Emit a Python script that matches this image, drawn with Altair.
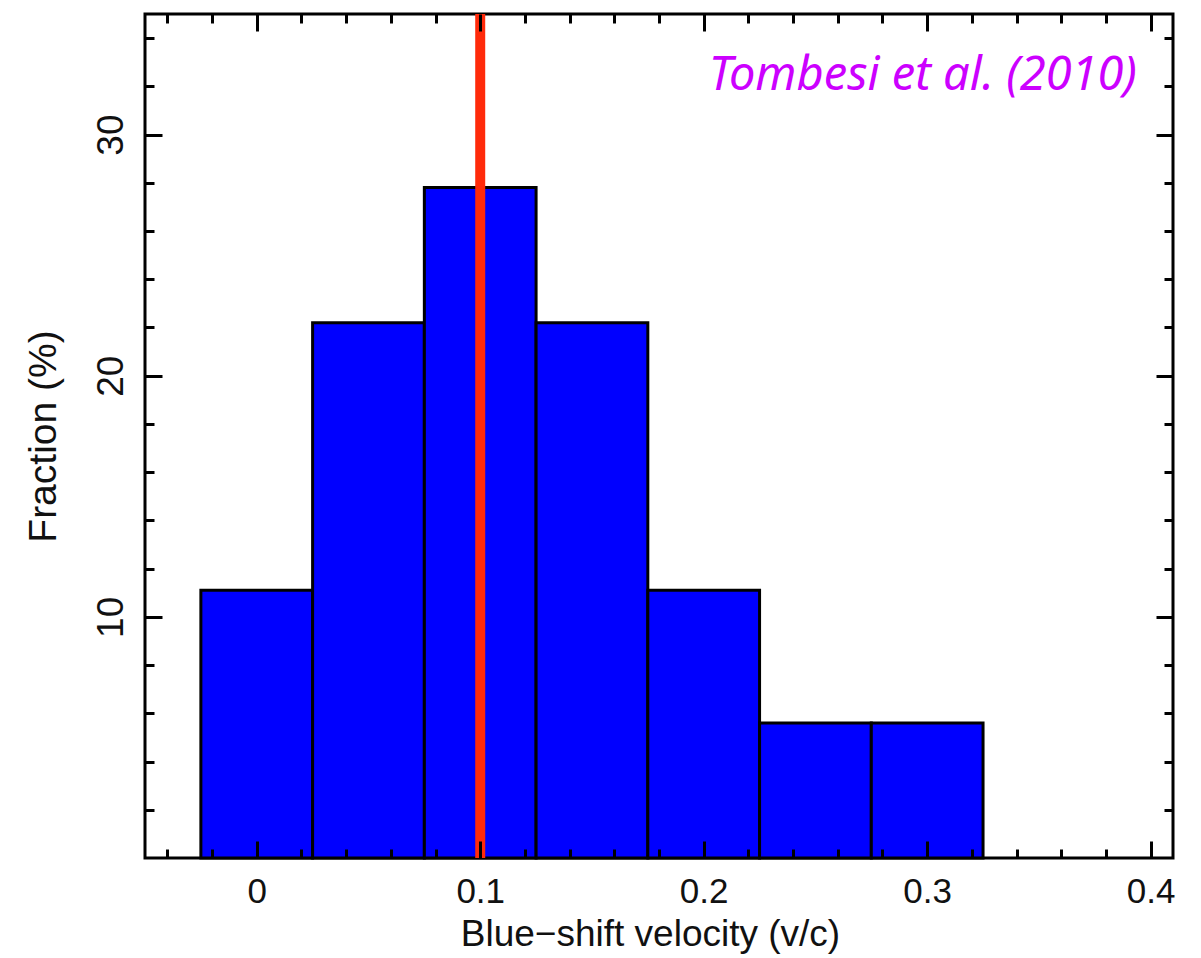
import altair as alt
import pandas as pd

# ---- data ----
bin_left = [-0.025, 0.025, 0.075, 0.125, 0.175, 0.225, 0.275]
bin_right = [0.025, 0.075, 0.125, 0.175, 0.225, 0.275, 0.325]
fraction = [11.1, 22.2, 27.8, 22.2, 11.1, 5.6, 5.6]
mean_velocity = [0.1]
annotation = ["Tombesi et al. (2010)"]

x_major = [0, 0.1, 0.2, 0.3, 0.4]
x_minor = [-0.04, -0.02, 0.02, 0.04, 0.06, 0.08, 0.12, 0.14, 0.16, 0.18,
           0.22, 0.24, 0.26, 0.28, 0.32, 0.34, 0.36, 0.38]
y_major = [10, 20, 30]
y_minor = [2, 4, 6, 8, 12, 14, 16, 18, 22, 24, 26, 28, 32, 34]

W, H = 1028, 844
FONT = "Liberation Sans"

hist = pd.DataFrame({"left": bin_left, "right": bin_right, "frac": fraction})
line = pd.DataFrame({"v": mean_velocity})
note = pd.DataFrame({"t": annotation})

xs = alt.Scale(domain=[-0.05, 0.41], nice=False, zero=False)
ys = alt.Scale(domain=[0, 35], nice=False)


def tick_axis(orient, offset, values, size):
    return alt.Axis(orient=orient, offset=offset, values=values, tickSize=size,
                    tickWidth=3, tickColor="black", labels=False, domain=False,
                    grid=False, title=None, zindex=2)


x_main = alt.Axis(orient="bottom", values=x_major, format="~g", ticks=False,
                  domain=False, grid=False, labelFont=FONT, labelFontSize=35,
                  labelColor="#111", labelBaseline="alphabetic", labelPadding=44,
                  labelAlign="center",
                  title="Blue\u2212shift velocity (v/c)", titleFont=FONT,
                  titleFontSize=37, titleFontWeight="normal", titleColor="#111",
                  titleBaseline="alphabetic", titleAlign="center",
                  titleX=505, titleY=87, zindex=2)
y_main = alt.Axis(orient="left", values=y_major, format="d", ticks=False,
                  domain=False, grid=False, labelFont=FONT, labelFontSize=37,
                  labelColor="#111", labelAngle=270, labelAlign="center",
                  labelBaseline="alphabetic", labelPadding=23,
                  title="Fraction (%)", titleFont=FONT, titleFontSize=39,
                  titleFontWeight="normal", titleColor="#111", titleAngle=270,
                  titleAlign="center", titleBaseline="alphabetic",
                  titleX=-90, titleY=H / 2, zindex=2)

base = alt.Chart(hist)

bars = base.mark_rect(color="#0000ff", stroke="black", strokeWidth=3).encode(
    x=alt.X("left:Q", scale=xs, axis=x_main),
    x2="right:Q",
    y=alt.Y("frac:Q", scale=ys, axis=y_main),
    y2=alt.datum(0),
)

ticks_in_major = base.mark_point(opacity=0).encode(
    x=alt.X("left:Q", scale=xs, axis=tick_axis("top", -H, x_major, 17)),
    y=alt.Y("frac:Q", scale=ys, axis=tick_axis("right", -W, y_major, 17)),
)
ticks_in_minor = base.mark_point(opacity=0).encode(
    x=alt.X("left:Q", scale=xs, axis=tick_axis("top", -H, x_minor, 9)),
    y=alt.Y("frac:Q", scale=ys, axis=tick_axis("right", -W, y_minor, 9)),
)
ticks_out_major = base.mark_point(opacity=0).encode(
    x=alt.X("left:Q", scale=xs, axis=tick_axis("bottom", -H, x_major, 17)),
    y=alt.Y("frac:Q", scale=ys, axis=tick_axis("left", -W, y_major, 17)),
)
ticks_out_minor = base.mark_point(opacity=0).encode(
    x=alt.X("left:Q", scale=xs, axis=tick_axis("bottom", -H, x_minor, 9)),
    y=alt.Y("frac:Q", scale=ys, axis=tick_axis("left", -W, y_minor, 9)),
)

rule = alt.Chart(line).mark_rule(color="#ff2a0a", strokeWidth=10).encode(
    x=alt.X("v:Q", scale=xs, axis=None),
)

text = alt.Chart(note).mark_text(
    font="Noto Sans", fontSize=47, fontStyle="italic", color="#cc00ff",
    align="right", baseline="alphabetic",
).encode(x=alt.value(992), y=alt.value(76), text="t:N")

chart = (
    alt.layer(bars, rule, ticks_in_major, ticks_in_minor, ticks_out_major,
              ticks_out_minor, text)
    .resolve_scale(x="shared", y="shared")
    .resolve_axis(x="independent", y="independent")
    .properties(width=W, height=H, autosize=alt.AutoSizeParams(type="none"),
                padding={"left": 145, "top": 14, "right": 28, "bottom": 100},
                background="white")
    .configure_view(stroke="black", strokeWidth=3)
)

chart.save("out.html", embed_options={"renderer": "svg", "actions": False})
